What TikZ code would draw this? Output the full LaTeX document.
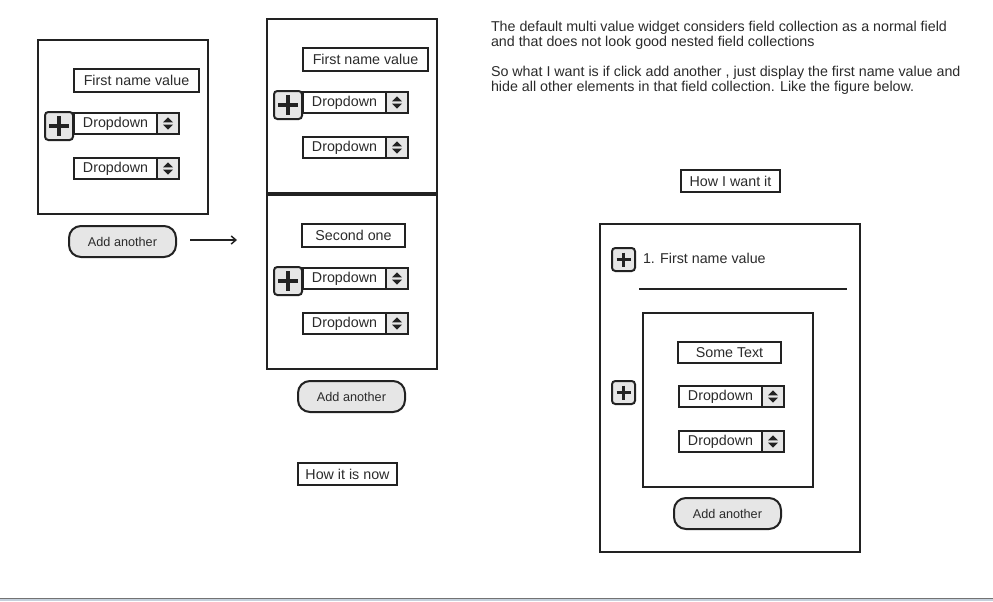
\documentclass[tikz,border=0pt]{standalone}
\usepackage{fontspec}
\setmainfont{Liberation Sans}
\usetikzlibrary{arrows.meta,calc}
\definecolor{ink}{HTML}{222222}
\definecolor{btn}{HTML}{E6E6E6}
\definecolor{txt}{HTML}{2B2B2B}
\definecolor{edgeblue}{HTML}{C5D0DC}
\newcommand\lblfont{\fontsize{10.7}{12}\selectfont}
\newcommand\btnfont{\fontsize{9.5}{11}\selectfont}
\newcommand\parfont{\fontsize{10.7}{11.25}\selectfont}
% dropdown: name, x, y (px)
\newcommand\dropdn[3]{%
  \node[ddmain] (#1) at (#2,#3) {Dropdown};
  \node[ddspin] (#1s) at (#1.north east) {};
  \fill[ink] ($(#1s.center)+(-5,-1.2)$) -- ++(10,0) -- ++(-5,-5) -- cycle;
  \fill[ink] ($(#1s.center)+(-5,1.2)$) -- ++(10,0) -- ++(-5,5) -- cycle;
}
% plus button: name, x, y, size(pt), arm(px), thickness(pt)
\newcommand\plusbtn[6]{%
  \node[plusb, minimum size=#4] (#1) at (#2,#3) {};
  \draw[ink, line width=#6] ($(#1.center)+(-#5,0)$) -- ($(#1.center)+(#5,0)$);
  \draw[ink, line width=#6] ($(#1.center)+(0,-#5)$) -- ($(#1.center)+(0,#5)$);
}
\tikzset{
  every node/.style={outer sep=0pt},
  box/.style={draw=ink, line width=1.5pt, anchor=north west, inner sep=0pt},
  field/.style={draw=ink, line width=1.5pt, fill=white, inner sep=0pt, anchor=north west, font=\lblfont, text=txt},
  ddmain/.style={field, minimum width=62.25pt, minimum height=15.75pt},
  ddspin/.style={draw=ink, line width=1.5pt, fill=btn, inner sep=0pt, anchor=north west, minimum width=16.5pt, minimum height=15.75pt},
  plusb/.style={draw=ink, line width=1.5pt, fill=btn, rounded corners=2.5pt, inner sep=0pt, anchor=north west},
  addbtn/.style={draw=ink, line width=1.5pt, fill=btn, rounded corners=9pt, inner sep=0pt, anchor=north west, minimum width=80.25pt, minimum height=23.25pt, font=\btnfont, text=txt},
  caption/.style={draw=ink, line width=1.5pt, fill=white, inner sep=0pt, anchor=north west, minimum width=74.25pt, minimum height=16.5pt, font=\lblfont, text=txt},
  para/.style={anchor=north west, inner sep=0pt, align=left, font=\parfont, text=txt},
  arr/.style={draw=ink, line width=1.1pt, -{Straight Barb[length=3.5pt,width=6pt]}}
}
\begin{document}
\begin{tikzpicture}[x=0.75pt,y=-0.75pt]
\useasboundingbox (0,0) rectangle (993,601);
\fill[white] (0,0) rectangle (993,601);

% ---------- left: single collection ----------
\node[box, minimum width=127.5pt, minimum height=130.5pt] (L) at (38,40) {};
\node[field, minimum width=93.75pt, minimum height=17.25pt] (Lname) at (74,69) {First name value};
\plusbtn{Lplus}{45}{112}{21pt}{10}{3pt}
\dropdn{Ld1}{74}{113}
\dropdn{Ld2}{74}{158}
\node[addbtn] (Ladd) at (69,226) {Add another};

\coordinate (arrS) at (190,240);
\coordinate (arrE) at (237,240);
\draw[arr] (arrS) -- (arrE);

% ---------- middle: how it is now ----------
\node[box, minimum width=127.5pt, minimum height=130.5pt] (M1) at (267,19) {};
\node[box, minimum width=127.5pt, minimum height=130.5pt] (M2) at (267,195) {};
\node[field, minimum width=93.75pt, minimum height=17.25pt] (Mname) at (303,48) {First name value};
\plusbtn{Mplus1}{274}{91}{21pt}{10}{3pt}
\dropdn{Md1}{303}{92}
\dropdn{Md2}{303}{137}
\node[field, minimum width=77.25pt, minimum height=17.25pt] (Msecond) at (302,224) {Second one};
\plusbtn{Mplus2}{274}{267}{21pt}{10}{3pt}
\dropdn{Md3}{303}{268}
\dropdn{Md4}{303}{313}
\node[addbtn] (Madd) at (298,381) {Add another};
\node[caption] (now) at (298,463) {How it is now};

% ---------- right: text ----------
\node[para] (p1) at (491,21) {The default multi value widget considers field collection as a normal field\\and that does not look good nested field collections};
\node[para] (p2) at (491,66) {So what I want is if click add another , just display the first name value and\\hide all other elements in that field collection. Like the figure below.};
\node[caption] (want) at (681,170) {How I want it};

% ---------- right: how I want it ----------
\node[box, minimum width=195pt, minimum height=246pt] (R) at (600,224) {};
\plusbtn{Rplus1}{612}{248}{17.25pt}{7}{2.4pt}
\node[anchor=west, inner sep=0pt, font=\lblfont, text=txt] (Rfirst) at (643,258) {1. First name value};
\coordinate (sepA) at (639,289);
\coordinate (sepB) at (847,289);
\draw[ink, line width=1.5pt] (sepA) -- (sepB);
\node[box, minimum width=127.5pt, minimum height=130.5pt] (Rin) at (643,313) {};
\plusbtn{Rplus2}{612}{381}{17.25pt}{7}{2.4pt}
\node[field, minimum width=77.25pt, minimum height=15.75pt] (Rsome) at (678,342) {Some Text};
\dropdn{Rd1}{679}{386}
\dropdn{Rd2}{679}{431}
\node[addbtn] (Radd) at (674,498) {Add another};

% ---------- bottom edge ----------
\fill[black!55] (0,597.5) rectangle (993,598.8);
\fill[edgeblue] (0,598.8) rectangle (993,601);
\end{tikzpicture}
\end{document}
